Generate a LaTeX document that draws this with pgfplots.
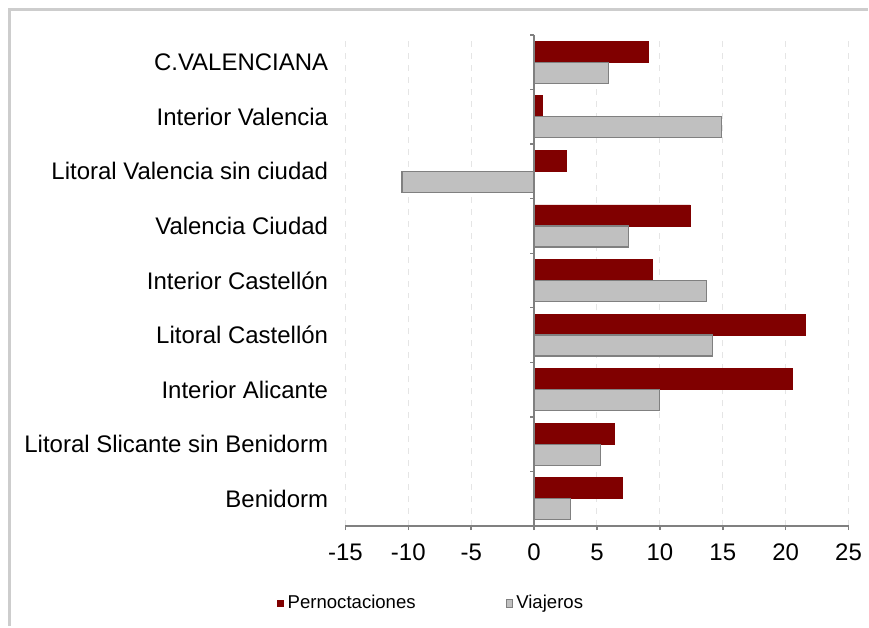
\documentclass[border=0pt]{standalone}
\usepackage{pgfplots}
\pgfplotsset{compat=1.18}
\usepackage{fontspec}
\setmainfont{Liberation Sans}
\definecolor{pern}{RGB}{128,0,0}
\definecolor{viaj}{RGB}{192,192,192}
\definecolor{viajedge}{RGB}{128,128,128}
\definecolor{frame}{RGB}{205,205,205}
\begin{document}
\begin{tikzpicture}
% 1 px of the reference = 0.5pt
\path (0,0) rectangle (434.5pt,313.5pt);
\draw[frame, line width=1.5pt] (5pt,0pt) -- (5pt,308.5pt) -- (434.5pt,308.5pt);
\begin{axis}[
  at={(173pt,50pt)}, anchor=south west,
  scale only axis, width=252pt, height=246pt,
  xbar, bar width=10.5pt,
  xmin=-15, xmax=25, ymin=-0.5, ymax=8.5,
  xtick={-15,-10,...,25},
  ytick={0,...,8},
  yticklabels={Benidorm, Litoral Slicante sin Benidorm, Interior Alicante,
    Litoral Castellón, Interior Castellón, {Valencia Ciudad\ },
    Litoral Valencia sin ciudad, Interior Valencia, C.VALENCIANA},
  axis x line*=bottom, axis y line*=left,
  y axis line style={draw=none},
  x axis line style={viajedge, line width=0.8pt},
  ytick style={draw=none},
  xtick style={viajedge, line width=0.8pt},
  tick align=outside, major tick length=2pt,
  xmajorgrids, grid style={gray!20, dashed, line width=0.5pt},
  /pgf/number format/assume math mode=true,
  tick label style={font=\fontsize{12}{14}\selectfont},
  xticklabel style={yshift=-3.5pt},
  yticklabel style={inner xsep=0pt, xshift=-6.5pt},
  legend style={draw=none, fill=none, at={(axis description cs:0,0)},
    anchor=west, xshift=-37.5pt, yshift=-38.5pt,
    font=\fontsize{9.3}{10}\selectfont,
    nodes={inner xsep=2pt, inner ysep=0pt},
    /tikz/every even column/.append style={column sep=43pt}},
  legend columns=2,
]
\addplot[fill=pern, draw=pern, bar shift=5.25pt,
  legend image code/.code={\draw[fill=pern, draw=pern] (0pt,-1.5pt) rectangle (3pt,1.5pt);}]
  coordinates {(9.1,8) (0.7,7) (2.6,6) (12.4,5) (9.4,4) (21.6,3) (20.5,2) (6.4,1) (7.0,0)};
\addlegendentry{Pernoctaciones}
\addplot[fill=viaj, draw=viajedge, line width=0.6pt, bar shift=-5.25pt,
  legend image code/.code={\draw[fill=viaj, draw=viajedge, line width=0.4pt] (0pt,-2pt) rectangle (3pt,2pt);}]
  coordinates {(5.9,8) (14.9,7) (-10.5,6) (7.5,5) (13.7,4) (14.2,3) (10.0,2) (5.3,1) (2.9,0)};
\addlegendentry{Viajeros}
\draw[viajedge, line width=0.8pt] (axis cs:0,-0.5) -- (axis cs:0,8.5);
\pgfplotsinvokeforeach{-0.5,0.5,1.5,2.5,3.5,4.5,5.5,6.5,7.5,8.5}{
  \draw[viajedge, line width=0.6pt] (axis cs:0,#1) -- ++(-2pt,0pt);
}
\end{axis}
\end{tikzpicture}
\end{document}
